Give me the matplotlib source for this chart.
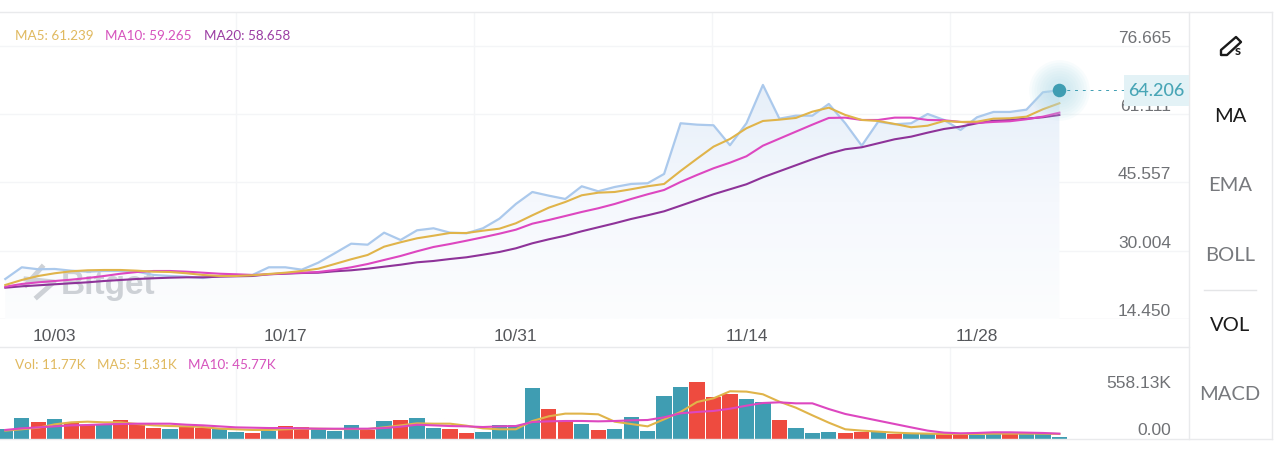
import numpy as np
import matplotlib
matplotlib.use("Agg")
import matplotlib.pyplot as plt
from matplotlib.colors import LinearSegmentedColormap
from matplotlib.lines import Line2D
from matplotlib.patches import Rectangle, Polygon
from matplotlib.transforms import ScaledTranslation

# --- Data ---
close = [23.57, 26.23, 25.78, 25.85, 25.46, 25.23, 25.39, 25.39, 25.23, 24.48, 24.25, 24.09, 23.79,
         24.25, 24.48, 24.48, 26.23, 26.23, 25.69, 27.28, 29.42, 31.61, 31.38, 34.12, 32.45, 34.66,
         35.12, 34.12, 33.98, 35.12, 37.31, 40.66, 43.39, 42.55, 41.80, 44.69, 43.55, 44.53, 45.22,
         45.38, 47.50, 59.05, 58.73, 58.59, 54.04, 59.05, 67.78, 60.10, 60.78, 60.78, 63.45, 59.05,
         53.94, 59.41, 58.82, 59.05, 61.17, 59.80, 57.52, 60.42, 61.63, 61.63, 62.15, 66.11, 66.57]
ma5 = [22.20, 23.34, 24.25, 24.87, 25.32, 25.55, 25.62, 25.62, 25.46, 25.23, 25.16, 24.87, 24.48,
       24.25, 24.25, 24.41, 24.71, 25.00, 25.39, 25.91, 26.98, 28.06, 29.04, 30.93, 31.93, 32.84,
       33.43, 34.05, 34.05, 34.57, 35.03, 36.26, 38.08, 39.82, 41.11, 42.64, 43.23, 43.39, 44.01,
       44.69, 45.22, 48.18, 50.98, 53.72, 55.47, 57.91, 59.57, 59.87, 60.26, 61.69, 62.60, 60.94,
       59.80, 59.57, 58.89, 58.14, 58.50, 59.57, 59.35, 59.41, 60.10, 60.19, 60.55, 62.24, 63.61]
ma10 = [21.81, 22.43, 22.81, 23.11, 23.41, 23.79, 24.25, 24.77, 25.16, 25.39, 25.39, 25.23, 25.00,
        24.77, 24.64, 24.48, 24.64, 24.87, 25.00, 25.16, 25.62, 26.23, 26.98, 27.90, 28.81, 29.88,
        30.86, 31.54, 32.29, 33.07, 33.89, 34.80, 36.17, 37.01, 37.92, 38.84, 39.68, 40.66, 41.80,
        42.87, 43.85, 45.67, 47.27, 48.79, 50.07, 51.53, 53.94, 55.54, 57.14, 58.73, 60.26, 60.33,
        59.80, 59.80, 60.33, 60.33, 59.80, 59.73, 59.35, 59.12, 59.35, 59.51, 59.96, 60.55, 61.47]
ma20 = [21.58, 21.90, 22.13, 22.36, 22.59, 22.81, 23.11, 23.34, 23.57, 23.73, 23.86, 23.95, 23.95,
        24.09, 24.18, 24.25, 24.64, 24.77, 24.93, 25.00, 25.32, 25.55, 25.91, 26.37, 26.82, 27.37,
        27.67, 28.12, 28.51, 29.10, 29.72, 30.56, 31.70, 32.61, 33.43, 34.44, 35.35, 36.26, 37.24,
        38.08, 38.99, 40.27, 41.57, 42.87, 44.01, 45.15, 46.74, 48.11, 49.48, 50.85, 52.12, 53.12,
        53.58, 54.49, 55.40, 56.00, 56.91, 57.75, 58.28, 59.05, 59.64, 59.80, 60.10, 60.42, 60.94]

# volume in thousands, 1 = up (teal), 0 = down (red)
vol = [116, 246, 198, 238, 190, 166, 170, 222, 182, 134, 122, 139, 131, 115, 87, 75, 95, 151, 143,
       122, 99, 170, 103, 214, 226, 246, 131, 119, 71, 83, 170, 170, 606, 360, 214, 182, 103, 122,
       265, 99, 519, 626, 681, 503, 543, 479, 443, 226, 134, 68, 83, 75, 83, 99, 63, 63, 59, 56, 56,
       51, 87, 68, 63, 63, 24]
vol_up = [1, 1, 0, 1, 0, 0, 1, 0, 0, 0, 1, 0, 0, 1, 1, 0, 1, 0, 0, 1, 1, 1, 0, 1, 0, 1,
          1, 0, 0, 1, 1, 1, 1, 0, 0, 1, 0, 1, 1, 1, 1, 1, 0, 0, 0, 1, 1, 0, 1, 1, 1, 0,
          0, 1, 0, 1, 1, 0, 0, 1, 1, 0, 1, 1, 1]
vol_ma5 = [100, 116, 135, 175, 199, 207, 199, 199, 179, 163, 155, 151, 143, 123, 116, 108, 108, 116,
           123, 123, 119, 119, 119, 139, 163, 187, 183, 183, 159, 127, 116, 116, 215, 271, 303, 303,
           295, 207, 179, 151, 235, 323, 442, 486, 570, 566, 534, 446, 374, 283, 195, 116, 100, 88,
           76, 68, 64, 60, 60, 60, 64, 64, 64, 64, 60]
vol_ma10 = [108, 127, 139, 151, 163, 167, 175, 179, 183, 183, 183, 171, 163, 151, 139, 135, 131, 131,
            127, 123, 123, 123, 123, 131, 147, 171, 163, 155, 151, 143, 151, 155, 203, 211, 215, 215,
            211, 215, 223, 227, 259, 307, 323, 335, 362, 398, 430, 438, 426, 426, 358, 299, 259, 219,
            179, 139, 100, 76, 68, 72, 80, 80, 76, 72, 64]

date_pos = [3, 17, 31, 45, 59]
date_labels = ["10/03", "10/17", "10/31", "11/14", "11/28"]
price_ticks = [14.450, 30.004, 45.557, 61.111, 76.665]
vol_ticks = [0, 558.13]
menu_items = ["MA", "EMA", "BOLL", "VOL", "MACD"]
menu_active = [True, False, False, True, False]

# --- Style ---
W, H = 1280, 453
TEAL = "#3f9db2"
RED = "#ee4b3f"
C_CLOSE = "#abc9ec"
C_MA5 = "#e0b44a"
C_MA10 = "#dd47c0"
C_MA20 = "#8e3399"
GRID = "#f4f5f7"
LINE = "#e9eaec"
GREY = "#6f7175"
plt.rcParams["font.family"] = ["Liberation Sans", "DejaVu Sans"]


def fx(x):
    return x / W


def fy(y):
    return 1 - y / H


def axes_rect(left, top, right, bottom):
    return [fx(left), fy(bottom), fx(right - left), (bottom - top) / H]


fig = plt.figure(figsize=(W / 100, H / 100), dpi=100, facecolor="white")
ax = fig.add_axes(axes_rect(0, 12, 1189, 319))
ax_vol = fig.add_axes(axes_rect(0, 348, 1189, 439), sharex=ax)

idx = np.arange(len(close))
ax.set_xlim((0 - 5.3) / 16.47, (1189 - 5.3) / 16.47)
ax.set_ylim(14.45, 84.4)
ax_vol.set_ylim(0, 1087)

# --- Price panel ---
for a in (ax, ax_vol):
    a.patch.set_alpha(0)
    for s in a.spines.values():
        s.set_visible(False)
    for gx in (236, 474, 712, 950):
        a.axvline((gx - 5.3) / 16.47, color=GRID, lw=1, zorder=0)

for t in price_ticks:
    ax.axhline(t, color=GRID if t > 14.45 else LINE, lw=1, zorder=0)

# gradient under the close line
grad = LinearSegmentedColormap.from_list("grad", ["#fcfdfe", "#f5f8fd", "#e6eff9"])
im = ax.imshow(np.linspace(0, 1, 200).reshape(-1, 1), origin="lower", aspect="auto", cmap=grad,
               extent=(0, 64, 14.45, 67.78), zorder=1)
clip = Polygon(np.column_stack([np.r_[idx, 64, 0], np.r_[close, 14.45, 14.45]]), closed=True,
               transform=ax.transData, facecolor="none", edgecolor="none")
ax.add_patch(clip)
im.set_clip_path(clip)
ax.set_xlim((0 - 5.3) / 16.47, (1189 - 5.3) / 16.47)
ax.set_ylim(14.45, 84.4)

# watermark, under the lines
ax.text(fx(61), fy(294), "Bitget", fontsize=24, fontweight="bold", color="#cdd1d6", zorder=2,
        ha="left", va="baseline", transform=fig.transFigure)
for pts in ([(26, 285), (42, 267)], [(26, 279), (54, 282), (37, 297)]):
    xs, ys = zip(*pts)
    ax.add_line(Line2D([fx(p) for p in xs], [fy(p) for p in ys], color="#cdd1d6", lw=3.5, zorder=2,
                       transform=fig.transFigure))

ax.plot(idx, close, color=C_CLOSE, lw=1.6, zorder=3)
ax.plot(idx, ma20, color=C_MA20, lw=1.5, zorder=4)
ax.plot(idx, ma10, color=C_MA10, lw=1.5, zorder=4.1)
ax.plot(idx, ma5, color=C_MA5, lw=1.5, zorder=4.2)

# last price marker, glow, dashed guide and label
last_x, last_y = idx[-1], close[-1]
for size in (1900, 1600, 1300, 1050, 800, 600, 420, 280):
    ax.scatter([last_x], [last_y], s=size, color="#b5dfea", alpha=0.09, lw=0, zorder=5)
ax.scatter([last_x], [last_y], s=95, color=TEAL, lw=0, zorder=6)
ax.plot([last_x, (1124 - 5.3) / 16.47], [last_y, last_y], color=TEAL, lw=0.7, ls=(0, (3, 5)), zorder=5)

ax.yaxis.tick_right()
ax.set_yticks(price_ticks)
ax.set_yticklabels(["14.450", "30.004", "45.557", "61.111", "76.665"])
ax.tick_params(axis="y", length=0, pad=-13, labelsize=12.5, labelcolor=GREY)
for lab in ax.get_yticklabels():
    lab.set_ha("right")
    lab.set_va("bottom")
ax.set_xticks(date_pos)
ax.set_xticklabels(date_labels)
ax.tick_params(axis="x", length=0, pad=7, labelsize=12.5, labelcolor="#55575b")

fig.add_artist(Rectangle((fx(1124), fy(106)), 65 / W, 31 / H, facecolor="#e3f2f6", edgecolor="none", zorder=7))
fig.text(fx(1156), fy(91), "64.206", color="#48a5b6", fontsize=13, ha="center", va="center",
         family="Lato", fontweight="medium", zorder=8)

# --- Volume panel ---
colors = [TEAL if u else RED for u in vol_up]
ax_vol.bar(idx, vol, width=0.93, color=colors, zorder=2)
ax_vol.plot(idx, vol_ma5, color=C_MA5, lw=1.5, zorder=3)
ax_vol.plot(idx, vol_ma10, color=C_MA10, lw=1.5, zorder=4)
ax_vol.yaxis.tick_right()
ax_vol.set_yticks(vol_ticks)
ax_vol.set_yticklabels(["0.00", "558.13K"])
ax_vol.tick_params(axis="y", length=0, pad=-13, labelsize=12.5, labelcolor=GREY)
for lab in ax_vol.get_yticklabels():
    lab.set_ha("right")
    lab.set_va("bottom")
    lab.set_transform(lab.get_transform() + ScaledTranslation(0, 1 / 100, fig.dpi_scale_trans))
ax_vol.tick_params(axis="x", length=0, labelbottom=False)

# --- Legends ---
for x, y, s, c in [(15, 36.5, "MA5: 61.239", "#e0b95f"), (105, 36.5, "MA10: 59.265", "#d653bd"),
                   (204, 36.5, "MA20: 58.658", "#9b3da3"), (15, 365, "Vol: 11.77K", "#e0b95f"),
                   (97, 365, "MA5: 51.31K", "#e0b95f"), (188, 365, "MA10: 45.77K", "#d653bd")]:
    fig.text(fx(x), fy(y), s, color=c, fontsize=9.7, family="Lato", ha="left", va="center")

# --- Frame lines and right menu ---
for x0, y0, x1, y1, c in [(0, 12, 1272, 12, LINE), (0, 347, 1189, 347, LINE), (0, 439, 1272, 439, LINE),
                          (1189, 12, 1189, 439, LINE), (1272, 12, 1272, 439, LINE),
                          (1204, 290, 1256, 290, "#e4e5e7")]:
    fig.add_artist(Line2D([fx(x0), fx(x1)], [fy(y0), fy(y1)], color=c, lw=1))

for name, y, active in zip(menu_items, (116.5, 185.5, 255.5, 325.5, 394.5), menu_active):
    fig.text(fx(1230), fy(y), name, color="#1a1a1a" if active else "#77797d", fontsize=14.5, family="Lato",
             ha="center", va="center")

# pencil icon
pencil = [(1221, 50), (1236, 37), (1241, 42), (1227, 55), (1221, 55)]
fig.add_artist(Polygon([(fx(a), fy(b)) for a, b in pencil], closed=True, transform=fig.transFigure,
                       facecolor="none", edgecolor="#1a1a1a", lw=1.7, joinstyle="round"))
fig.text(fx(1238), fy(51), "s", color="#1a1a1a", fontsize=10, ha="center", va="center", family="Lato",
         fontweight="bold")

fig.savefig("out.png", dpi=100)
